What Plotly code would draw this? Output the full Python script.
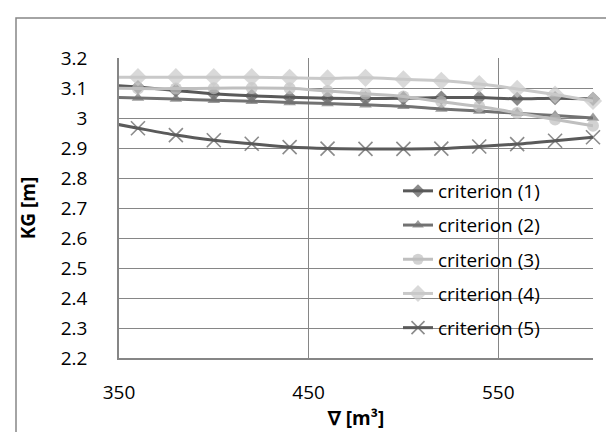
import plotly.graph_objects as go

# Data (x = displacement volume in m^3; first point at 340 lies outside the axis range)
volume = [340, 360, 380, 400, 420, 440, 460, 480, 500, 520, 540, 560, 580, 600]
crit1 = [3.112, 3.103, 3.092, 3.081, 3.074, 3.069, 3.066, 3.065, 3.066, 3.068, 3.068, 3.064, 3.066, 3.064]
crit2 = [3.070, 3.067, 3.063, 3.059, 3.056, 3.052, 3.048, 3.044, 3.039, 3.030, 3.023, 3.016, 3.008, 3.000]
crit3 = [3.100, 3.098, 3.098, 3.099, 3.100, 3.099, 3.090, 3.081, 3.072, 3.054, 3.038, 3.017, 2.995, 2.974]
crit4 = [3.136, 3.136, 3.136, 3.136, 3.136, 3.134, 3.132, 3.134, 3.129, 3.124, 3.113, 3.097, 3.078, 3.057]
crit5 = [2.990, 2.966, 2.943, 2.926, 2.914, 2.903, 2.898, 2.897, 2.897, 2.898, 2.905, 2.913, 2.924, 2.936]

series_names = ["criterion (1)", "criterion (2)", "criterion (3)", "criterion (4)", "criterion (5)"]
x_ticks = [350, 450, 550]
y_ticks = [2.2, 2.3, 2.4, 2.5, 2.6, 2.7, 2.8, 2.9, 3.0, 3.1, 3.2]
y_ticktext = ["2.2", "2.3", "2.4", "2.5", "2.6", "2.7", "2.8", "2.9", "3", "3.1", "3.2"]

FONT = "Open Sans"
FS = 19
GRID = "#868686"

# plot area in pixels: x 111..585, y 50..350
PL, PW, PT, PH = 111, 474, 50, 300


def px_x(p):
    return (p - PL) / PW


def px_y(p):
    return (PT + PH - p) / PH


styles = [
    dict(color="#595959", symbol="diamond", size=11),
    dict(color="#727272", symbol="triangle-up", size=11),
    dict(color="#bfbfbf", symbol="circle", size=12),
    dict(color="#c9c9c9", symbol="diamond", size=14),
    dict(color="#5a5a5a", symbol="x-thin-open", size=14),
]

fig = go.Figure()
for i, (name, ys, st) in enumerate(zip(series_names, [crit1, crit2, crit3, crit4, crit5], styles)):
    sizes = [0] + [st["size"]] * (len(volume) - 1)
    marker = dict(symbol=st["symbol"], size=sizes, color=st["color"])
    if st["symbol"].startswith("x-thin"):
        marker["line"] = dict(width=1.6, color=st["color"])
    else:
        marker["line"] = dict(width=0)
    fig.add_trace(go.Scatter(
        x=volume, y=ys, name=name, mode="lines+markers",
        line=dict(color=st["color"], width=3, shape="spline", smoothing=0.8),
        marker=marker, cliponaxis=False, legendgroup=f"g{i}",
    ))

fig.update_layout(
    width=614, height=432,
    margin=dict(l=PL, r=614 - PL - PW, t=PT, b=432 - PT - PH, autoexpand=False),
    paper_bgcolor="white", plot_bgcolor="white",
    font=dict(family=FONT, size=FS, color="black"),
    showlegend=True,
    legend=dict(
        x=px_x(390), y=px_y(164), xanchor="left", yanchor="top",
        bgcolor="rgba(0,0,0,0)", borderwidth=0,
        font=dict(family=FONT, size=FS, color="black"),
        tracegroupgap=6.5, itemwidth=30,
    ),
    xaxis=dict(
        range=[350, 600], tickmode="array", tickvals=x_ticks,
        showgrid=True, gridcolor=GRID, gridwidth=1,
        showline=True, linecolor=GRID, linewidth=1.5,
        zeroline=False, ticks="", ticklabelstandoff=16, automargin=False,
        tickfont=dict(family=FONT, size=FS),
        title=dict(text="<b>∇ [m³]</b>", font=dict(family=FONT, size=FS), standoff=8),
    ),
    yaxis=dict(
        range=[2.2, 3.2], tickmode="array", tickvals=y_ticks, ticktext=y_ticktext,
        showgrid=True, gridcolor=GRID, gridwidth=1,
        showline=True, linecolor=GRID, linewidth=1.5,
        zeroline=False, ticks="", ticklabelstandoff=26, automargin=False,
        tickfont=dict(family=FONT, size=FS),
        title=dict(text="<b>KG [m]</b>", font=dict(family=FONT, size=FS), standoff=20),
    ),
    shapes=[
        dict(
            type="rect", xref="paper", yref="paper",
            x0=px_x(8), x1=px_x(640), y0=px_y(460), y1=px_y(10),
            line=dict(color=GRID, width=1.5), fillcolor="rgba(0,0,0,0)", layer="below",
        ),
        dict(
            type="rect", xref="paper", yref="paper",
            x0=px_x(362), x1=px_x(578), y0=px_y(345), y1=px_y(176),
            line=dict(width=0), fillcolor="white", layer="between",
        ),
    ],
)

fig.write_html("out.html")
